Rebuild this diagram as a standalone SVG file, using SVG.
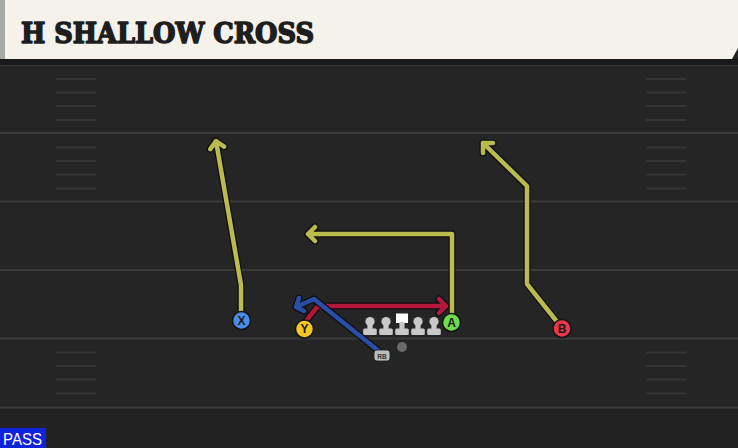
<svg xmlns="http://www.w3.org/2000/svg" width="738" height="448" viewBox="0 0 738 448">
<style>
.fl{stroke:#3b3b3b;stroke-width:2}
.hs{stroke:#353535;stroke-width:2}
.ol{fill:none;stroke:#0e0e14;stroke-width:7;stroke-linejoin:round;stroke-linecap:round}
.rt{fill:none;stroke-width:4.5;stroke-linejoin:round;stroke-linecap:round}
.yl{stroke:#b9bb4d}
.rd{stroke:#b3173c}
.bl{stroke:#2a4ea6}
.nd{stroke:#151515;stroke-width:1.5}
.lt{font-family:"Liberation Sans",Arial,sans-serif;font-weight:bold;font-size:12px;fill:#1a1a1a;text-anchor:middle}
.ln{fill:#c9c9c9}
</style>
<defs>
<g id="hash">
<line x1="0" y1="14" x2="40" y2="14"/>
<line x1="0" y1="27.5" x2="40" y2="27.5"/>
<line x1="0" y1="41" x2="40" y2="41"/>
<line x1="0" y1="55" x2="40" y2="55"/>
</g>
<g id="lineman">
<circle cx="0" cy="321.5" r="4.6"/>
<rect x="-2.6" y="321" width="5.2" height="9"/>
<rect x="-6.8" y="328.5" width="13.6" height="6.5" rx="1.5"/>
</g>
</defs>
<rect width="738" height="448" fill="#252525"/>
<rect x="0" y="407" width="738" height="41" fill="#222222"/>
<g id="field">
<line class="fl" x1="0" y1="65" x2="738" y2="65"/>
<line class="fl" x1="0" y1="133" x2="738" y2="133"/>
<line class="fl" x1="0" y1="201.5" x2="738" y2="201.5"/>
<line class="fl" x1="0" y1="270" x2="738" y2="270"/>
<line class="fl" x1="0" y1="338.5" x2="738" y2="338.5"/>
<line class="fl" x1="0" y1="407.5" x2="738" y2="407.5"/>
<g class="hs">
<use href="#hash" x="56" y="65"/>
<use href="#hash" x="56" y="133.5"/>
<use href="#hash" x="56" y="338.5"/>
<use href="#hash" x="646" y="65"/>
<use href="#hash" x="646" y="133.5"/>
<use href="#hash" x="646" y="338.5"/>
</g>
</g>
<g id="header">
<rect x="0" y="58" width="738" height="7" fill="#1a1a1a"/>
<polygon points="0,0 738,0 738,48 732,59 0,59" fill="#f4f2eb"/>
<rect x="0" y="0" width="5" height="59" fill="#a9a9a9"/>
<text x="21" y="42.5" font-family="'DejaVu Serif','Liberation Serif',serif" font-weight="bold" font-size="28" fill="#1e1e1e" stroke="#1e1e1e" stroke-width="1.6" stroke-linejoin="round" textLength="293" lengthAdjust="spacingAndGlyphs">H SHALLOW CROSS</text>
</g>
<g id="connectors">
<path class="ol" d="M241,312 L241,285 L216,141 M224.1,146.7 L216,141 L210.3,149.1"/>
<path class="rt yl" d="M241,312 L241,285 L216,141 M224.1,146.7 L216,141 L210.3,149.1"/>
<path class="ol" d="M452,314 L452,234 L308,234 M315,227 L308,234 L315,241"/>
<path class="rt yl" d="M452,314 L452,234 L308,234 M315,227 L308,234 L315,241"/>
<path class="ol" d="M558,323 L527,284 L527,186 L483,143 M493,143 L483,143 L483,153"/>
<path class="rt yl" d="M558,323 L527,284 L527,186 L483,143 M493,143 L483,143 L483,153"/>
<path class="ol" d="M306,321 L318,306 L446,306 M439,299 L446,306 L439,313"/>
<path class="rt rd" d="M306,321 L318,306 L446,306 M439,299 L446,306 L439,313"/>
<path class="ol" d="M380,352 L314,299 L296,307 M304,311 L296,307 L299,298"/>
<path class="rt bl" d="M380,352 L314,299 L296,307 M304,311 L296,307 L299,298"/>
</g>
<g id="node-X"><circle class="nd" cx="241.5" cy="320.5" r="9" fill="#4a8ce6"/><text class="lt" x="241.5" y="324.8">X</text></g>
<g id="node-Y"><circle class="nd" cx="304.5" cy="329" r="9" fill="#f5c624"/><text class="lt" x="304.5" y="333.3">Y</text></g>
<g id="node-A"><circle class="nd" cx="451.5" cy="322.5" r="9" fill="#6ddc4b"/><text class="lt" x="451.5" y="326.8">A</text></g>
<g id="node-B"><circle class="nd" cx="562" cy="328.5" r="9" fill="#e8384a"/><text class="lt" x="562" y="332.8">B</text></g>
<g id="line" class="ln">
<use href="#lineman" x="370"/>
<use href="#lineman" x="386"/>
<use href="#lineman" x="418"/>
<use href="#lineman" x="434"/>
</g>
<g id="center">
<rect x="396" y="313.5" width="12" height="9.5" fill="#ffffff"/>
<rect x="399.4" y="322" width="5.2" height="8" fill="#c9c9c9"/>
<rect x="395.2" y="328.5" width="13.6" height="6.5" rx="1.5" fill="#c9c9c9"/>
</g>
<g id="qb"><circle cx="402" cy="347" r="5" fill="#6a6a6a"/></g>
<g id="node-RB">
<rect x="374" y="350" width="16" height="11" rx="3" fill="#bdbdbd" stroke="#1a1a1a" stroke-width="0.8"/>
<text x="382" y="358.5" font-family="'Liberation Sans',Arial,sans-serif" font-weight="bold" font-size="6.5" fill="#333" text-anchor="middle">RB</text>
</g>
<g id="pass">
<rect x="0" y="428" width="46" height="20" fill="#0f22dc"/>
<text x="3" y="445" font-family="'Liberation Sans',Arial,sans-serif" font-size="16" fill="#ffffff" textLength="39" lengthAdjust="spacingAndGlyphs">PASS</text>
</g>
</svg>
